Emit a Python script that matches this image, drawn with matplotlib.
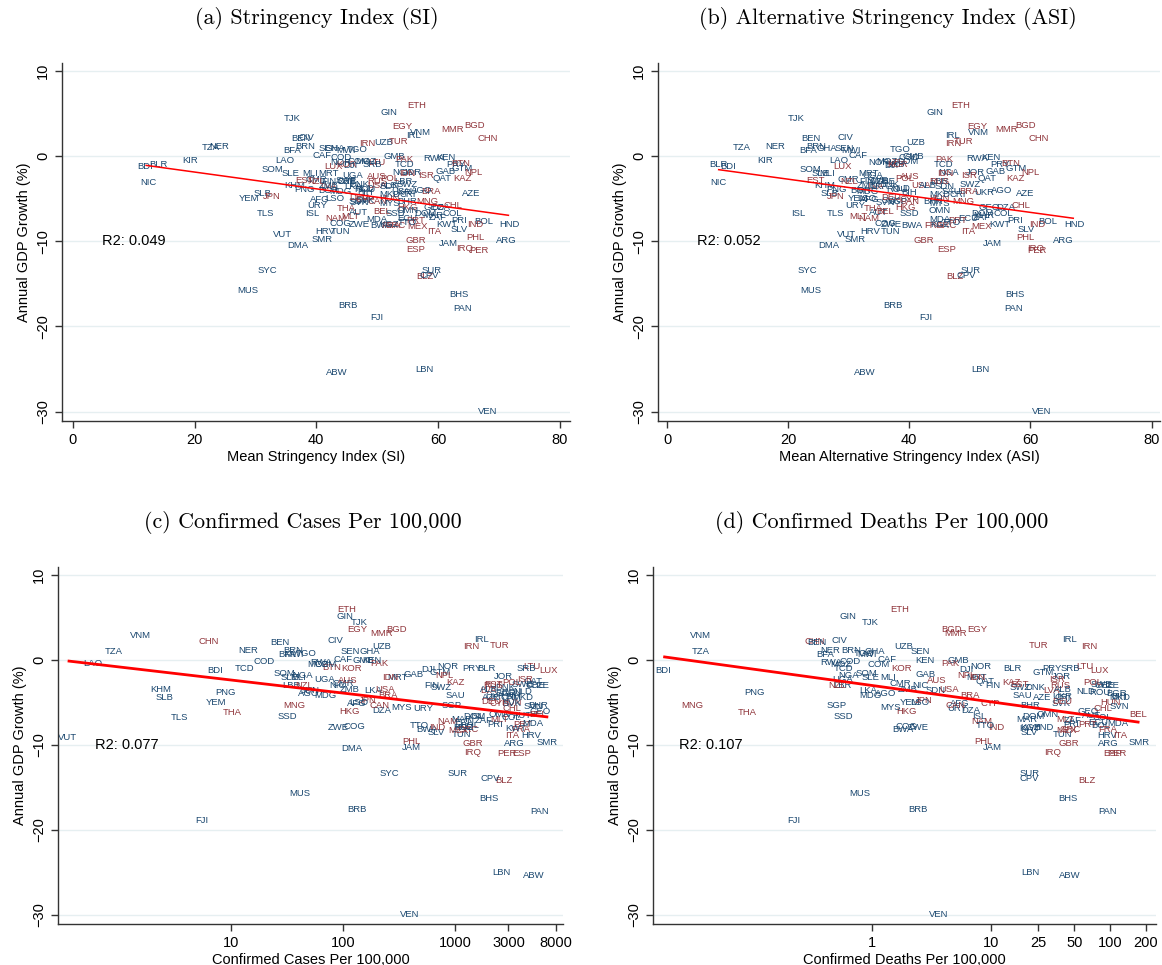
import numpy as np
import matplotlib
matplotlib.use('Agg')
import matplotlib.pyplot as plt
import matplotlib.transforms as mtransforms

nan = np.nan
# ---------------- data ----------------
codes = ['TJK','GIN','ETH','EGY','VNM','IRL','MMR','BGD','CHN','IRN',
         'UZB','TUR','BEN','CIV','BRN','BFA','TZA','NER','KIR','BLR',
         'BDI','NIC','LAO','SOM','SLE','MLI','SLB','YEM','JPN','TLS',
         'AFG','URY','ISL','VUT','DMA','SMR','HRV','KHM','TUN','BWA',
         'GBR','ESP','JAM','PHL','ARG','IRQ','PER','HND','BOL','IND',
         'SLV','PRI','ITA','MAR','MEX','COL','DZA','GEO','CHL','MNG',
         'AZE','BRA','UKR','GMB','PAK','TCD','RWA','KEN','PRY','BTN',
         'GTM','NPL','KAZ','GAB','QAT','JOR','ISR','NGA','SWZ','AGO',
         'LBR','SDN','HKG','NAM','MLT','AUT','BEL','SSD','ECU','FRA',
         'PRT','GRC','MDA','HUN','CHE','NLD','SWE','DNK','LVA','EST',
         'POL','LTU','LUX','SRB','MOZ','DJI','COD','MWI','TGO','GHA',
         'SEN','CAF','KOR','MRT','IDN','UGA','ZMB','LKA','USA','ZWE',
         'COG','CAN','MYS','SGP','CMR','AUS','NZL','THA','PNG','MDG',
         'CYP','BHR','OMN','DOM','KGZ','SAU','TTO','ZAF','FIN','NOR',
         'CZE','BGR','ROU','SVK','SVN','RUS','LSO','DEU','MKD','ALB',
         'BIH','CRI','KWT','SYC','MUS','BRB','FJI','ABW','LBN','VEN',
         'SUR','BLZ','CPV','BHS','PAN','COM']

red_group = [0,0,1,1,0,0,1,1,1,1,
             0,1,0,0,0,0,0,0,0,0,
             0,0,0,0,0,0,0,0,1,0,
             0,0,0,0,0,0,0,0,0,0,
             1,1,0,1,0,1,1,0,0,1,
             0,0,1,0,1,0,0,0,1,1,
             0,1,0,0,1,0,0,0,0,1,
             0,1,1,0,0,0,1,0,0,0,
             0,0,1,1,1,0,1,0,0,1,
             1,1,0,1,0,0,0,0,1,1,
             1,1,1,0,0,0,0,0,0,0,
             0,0,1,0,1,0,0,0,1,0,
             0,1,0,0,0,1,1,1,0,0,
             1,0,0,0,0,0,0,0,0,0,
             0,0,0,0,0,1,0,1,0,0,
             0,0,0,0,0,0,0,0,0,0,
             0,1,0,0,0,0]

gdp_growth = [4.4, 5.1, 5.9, 3.5, 2.8, 2.4, 3.1, 3.6, 2.1, 1.5,
              1.6, 1.7, 2.0, 2.2, 1.1, 0.6, 1.0, 1.1, -0.5, -1.0,
              -1.3, -3.1, -0.5, -1.6, -2.1, -2.1, -4.4, -5.0, -4.8, -6.8,
              -5.1, -5.8, -6.7, -9.2, -10.5, -9.8, -8.9, -3.5, -8.85, -8.2,
              -9.9, -11.0, -10.3, -9.6, -9.9, -10.9, -11.1, -8.0, -7.7, -8.0,
              -8.6, -7.6, -8.9, -7.0, -8.3, -6.8, -6.0, -6.1, -5.8, -5.4,
              -4.4, -4.2, -4.3, -0.1, -0.4, -1.0, -0.3, -0.15, -1.0, -0.9,
              -1.5, -1.9, -2.7, -1.8, -2.6, -2.0, -2.3, -1.9, -3.3, -4.0,
              -3.0, -3.6, -6.1, -7.3, -7.1, -6.6, -6.5, -6.7, -7.4, -8.2,
              -7.6, -8.2, -7.5, -5.0, -3.0, -3.8, -2.9, -3.3, -3.6, -2.9,
              -2.7, -0.8, -1.3, -1.0, -0.6, -1.1, -0.2, 0.6, 0.7, 0.9,
              0.9, 0.0, -1.0, -2.1, -2.1, -2.3, -3.5, -3.6, -3.5, -8.0,
              -7.9, -5.4, -5.6, -5.4, -2.8, -2.4, -3.0, -6.2, -3.9, -4.2,
              -5.1, -5.4, -6.4, -6.7, -8.0, -4.2, -7.8, -7.2, -3.0, -0.8,
              -3.0, -4.0, -3.9, -5.2, -5.5, -3.0, -5.0, -4.9, -4.5, -3.5,
              -4.3, -4.5, -8.1, -13.45, -15.8, -17.6, -18.9, -25.45, -25.0, -30.0,
              -13.45, -14.2, -14.0, -16.3, -17.9, -0.6]

mean_si = [36.0, 52.0, 56.5, 54.1, 57.1, 56.0, 62.4, 66.0, 68.2, 48.4,
           51.1, 53.6, 37.4, 38.4, 38.2, 36.0, 22.6, 24.1, 19.3, 14.1,
           11.9, 12.4, 34.8, 32.8, 35.7, 39.0, 31.1, 29.0, 32.6, 31.6,
           40.6, 40.1, 39.3, 34.5, 37.0, 41.0, 41.5, 36.5, 44.0, 50.6,
           56.3, 56.3, 61.7, 66.2, 71.2, 64.3, 66.8, 71.7, 67.5, 66.2,
           63.5, 63.5, 59.4, 59.1, 56.6, 62.4, 60.5, 59.4, 62.4, 58.3,
           65.4, 58.8, 54.0, 52.8, 54.4, 54.5, 59.4, 61.3, 62.9, 63.8,
           64.0, 65.8, 64.0, 61.3, 60.7, 55.8, 58.0, 54.1, 55.0, 57.4,
           54.3, 52.0, 55.0, 43.2, 45.6, 47.0, 50.9, 53.0, 55.0, 52.2,
           56.3, 53.0, 50.0, 52.0, 45.0, 48.0, 45.0, 47.0, 42.0, 38.0,
           52.0, 50.0, 42.8, 49.2, 48.1, 45.6, 44.0, 44.8, 46.7, 43.0,
           42.0, 41.0, 45.0, 42.0, 55.0, 46.0, 42.0, 46.0, 50.0, 47.0,
           44.0, 50.0, 52.0, 47.0, 40.0, 50.0, 40.0, 45.0, 38.0, 44.0,
           48.0, 55.0, 55.0, 58.0, 52.0, 55.0, 55.0, 60.0, 42.0, 44.0,
           45.0, 42.0, 48.0, 48.0, 47.0, 50.0, 43.0, 47.0, 52.0, 52.0,
           48.0, 55.0, 61.5, 31.9, 28.7, 45.2, 49.9, 43.3, 57.8, 68.1,
           59.0, 57.8, 58.6, 63.5, 64.0, 47.0]

mean_asi = [21.3, 44.3, 48.5, 51.2, 51.5, 47.2, 56.1, 59.2, 61.4, 47.2,
            41.0, 49.0, 23.8, 29.5, 24.7, 23.3, 12.4, 17.9, 16.2, 8.5,
            10.1, 8.4, 28.3, 23.6, 25.3, 26.5, 26.9, 31.6, 27.8, 27.8,
            33.5, 31.1, 21.7, 29.7, 26.7, 31.1, 33.6, 26.0, 36.9, 40.4,
            42.4, 46.1, 53.7, 59.2, 65.5, 60.8, 61.1, 67.2, 62.9, 61.1,
            59.3, 57.5, 49.8, 52.3, 52.0, 55.5, 56.0, 53.1, 58.5, 49.0,
            59.2, 49.8, 52.3, 40.7, 45.7, 45.6, 51.2, 53.4, 55.0, 56.7,
            57.7, 60.0, 57.5, 54.2, 52.8, 50.9, 49.8, 46.5, 50.1, 55.3,
            45.0, 45.9, 39.3, 33.3, 31.6, 35.0, 36.0, 40.0, 49.8, 44.0,
            48.0, 46.0, 45.0, 45.0, 36.0, 38.5, 34.7, 36.6, 34.4, 24.5,
            39.3, 38.0, 28.9, 37.7, 36.3, 37.0, 40.0, 30.3, 38.5, 26.4,
            29.3, 31.6, 38.0, 33.3, 46.0, 34.0, 33.0, 35.0, 42.0, 37.0,
            36.0, 40.0, 45.0, 38.0, 29.9, 40.0, 30.0, 34.0, 28.0, 33.0,
            40.0, 44.0, 45.0, 52.0, 45.0, 47.0, 47.0, 52.0, 33.0, 35.0,
            35.0, 32.0, 38.0, 37.0, 36.0, 45.0, 33.0, 37.0, 45.0, 43.0,
            40.0, 48.0, 55.0, 23.1, 23.7, 37.3, 42.7, 32.7, 51.7, 61.9,
            50.1, 47.6, 49.4, 57.5, 57.2, 39.7]

cases_per_100k = [140, 104, 108, 134, 1.57, 1740, 221, 302, 6.3, 1410,
                  221, 2500, 27.4, 85, 36, 32, 0.91, 14.3, nan, 1910,
                  7.2, 90, 0.59, 30, 33.6, 40, 2.57, 7.35, 168, 3.45,
                  133, 520, 1580, 0.35, 120, 6700, 4800, 2.37, 1140, 560,
                  1450, 3970, 410, 410, 3390, 1440, 2890, 1200, 1350, 690,
                  680, 2290, 3270, 1140, 1070, 3200, 221, 5800, 3200, 37,
                  2100, 254, 2300, 152, 213, 13.3, 64, 180, 1410, 80,
                  730, 810, 1020, 425, 5000, 2700, 4200, 44, 760, 50,
                  35, 50, 115, 870, 2500, 4000, 5500, 31.8, 1200, 3900,
                  4000, 1300, 5000, 3200, 5200, 4050, 4000, 2800, 2000, 2200,
                  3200, 4900, 6800, 4370, 60, 575, 20, 37, 47, 174,
                  116, 100, 120, 310, 262, 69, 115, 186, 240, 91,
                  127, 213, 333, 935, 100, 110, 45, 10.3, 9.0, 70,
                  2500, 5500, 2500, 1500, 1200, 1000, 485, 1800, 617, 870,
                  5700, 2800, 3200, 3200, 5000, 2200, 140, 2100, 4000, 2000,
                  3300, 3000, 3500, 261, 41, 133, 5.5, 5090, 2610, 398,
                  1055, 2710, 2070, 2000, 5710, 70]

deaths_per_100k = [0.96, 0.63, 1.72, 7.6, 0.036, 45.5, 4.98, 4.68, 0.33, 67,
                   1.83, 25, 0.34, 0.53, 0.66, 0.40, 0.036, 0.44, nan, 15.2,
                   0.0175, 2.53, nan, 0.90, 0.96, 1.37, nan, 2.1, 2.7, nan,
                   5.5, 5.2, 8.0, nan, nan, 177, 94, nan, 40, 1.83,
                   44.7, 105, 10.3, 8.6, 97, 33, 115, 27.5, 83, 11.1,
                   21.0, 47.5, 121, 19.9, 43, 86, 6.7, 65, 88, 0.0305,
                   26.7, 6.6, 40, 5.3, 4.5, 0.57, 0.45, 2.8, 32.3, nan,
                   27.5, 6.25, 14.9, 2.8, 8.9, 39, 36, 0.63, 17.5, 1.29,
                   0.56, 3.4, 1.96, 8.3, 42, 70, 172, 0.57, 80, 95,
                   65, 46, 117, 100, 90, 63, 85, 23.4, 32, 17.5,
                   72, 61, 81, 46, 0.54, 6.2, 0.65, 0.9, 0.85, 1.06,
                   2.53, 1.33, 1.78, 7.6, 7.6, 0.56, 2.0, 0.93, 4.4, 2.45,
                   1.96, 5.0, 1.42, 0.505, 1.72, 3.5, 0.505, 0.0895, 0.102, 0.96,
                   9.8, 21.2, 30, 22.6, 21.2, 18.5, 8.9, 49, 10.3, 8.2,
                   100, 113, 83, 39, 120, 38, 2.5, 40, 120, 40,
                   120, 40, 21, nan, 0.78, 2.45, 0.22, 46, 21.5, 3.6,
                   21.1, 64, 20.8, 44, 95, 1.13]

r2_labels = ['R2: 0.049', 'R2: 0.052', 'R2: 0.077', 'R2: 0.107']
titles = ['(a) Stringency Index (SI)', '(b) Alternative Stringency Index (ASI)',
          '(c) Confirmed Cases Per 100,000', '(d) Confirmed Deaths Per 100,000']
xlabels = ['Mean Stringency Index (SI)', 'Mean Alternative Stringency Index (ASI)',
           'Confirmed Cases Per 100,000', 'Confirmed Deaths Per 100,000']
lin_ticks = [0, 20, 40, 60, 80]
cases_ticks = [10, 100, 1000, 3000, 8000]
deaths_ticks = [1, 10, 25, 50, 100, 200]
y_ticks = [10, 0, -10, -20, -30]

# ---------------- styling ----------------
BLUE = '#1a476f'
RED = '#90353b'
SANS = ['Liberation Sans', 'DejaVu Sans']
W, H = 1162, 965
fig = plt.figure(figsize=(W / 100, H / 100), dpi=100)
fig.patch.set_facecolor('white')

def rect(l, r, t, b):
    return [l / W, 1 - b / H, (r - l) / W, (b - t) / H]

y = np.array(gdp_growth, dtype=float)
colors = [RED if g else BLUE for g in red_group]

panels = [
    dict(rect=rect(62, 570, 63, 421), x=np.array(mean_si, float), log=False,
         xlim=(-1.8, 81.7), ticks=lin_ticks, r2x=0.079, lw=1.1, tx=317, ty=18),
    dict(rect=rect(658, 1160, 63, 421), x=np.array(mean_asi, float), log=False,
         xlim=(-1.5, 81.4), ticks=lin_ticks, r2x=0.078, lw=1.1, tx=888, ty=18),
    dict(rect=rect(58, 563, 567, 924), x=np.array(cases_per_100k, float), log=True,
         xlim=(10 ** -0.542, 10 ** 3.964), ticks=cases_ticks, r2x=0.073, lw=2.0, tx=303, ty=522),
    dict(rect=rect(653, 1156, 567, 924), x=np.array(deaths_per_100k, float), log=True,
         xlim=(10 ** -1.843, 10 ** 2.387), ticks=deaths_ticks, r2x=0.052, lw=2.0, tx=882, ty=522),
]

for i, p in enumerate(panels):
    ax = fig.add_axes(p['rect'])
    x = p['x']
    if p['log']:
        ax.set_xscale('log')
    ax.set_xlim(*p['xlim'])
    ax.set_ylim(-31.1, 10.9)
    m = np.isfinite(x) & np.isfinite(y)
    for xi, yi, c, ci, ok in zip(x, y, codes, colors, m):
        if ok:
            ax.text(xi, yi, c, color=ci, fontsize=6.8, family=SANS,
                    ha='center', va='center', zorder=2, clip_on=True)
    xv = np.log10(x[m]) if p['log'] else x[m]
    b1, b0 = np.polyfit(xv, y[m], 1)
    xs = np.array([xv.min(), xv.max()])
    ax.plot(10 ** xs if p['log'] else xs, b0 + b1 * xs, color='red',
            lw=p['lw'], zorder=3, solid_capstyle='butt')

    ax.set_yticks(y_ticks)
    ax.set_xticks(p['ticks'])
    ax.set_xticklabels([str(t) for t in p['ticks']])
    ax.xaxis.set_minor_locator(matplotlib.ticker.NullLocator())
    ax.yaxis.grid(True, color='#e6eff1', lw=1.0, zorder=0)
    ax.set_axisbelow(True)
    for s in ['top', 'right']:
        ax.spines[s].set_visible(False)
    for s in ['left', 'bottom']:
        ax.spines[s].set_color('#333333')
        ax.spines[s].set_linewidth(1.0)
    ax.tick_params(direction='out', length=5, width=1.0, colors='#333333',
                   labelcolor='black', labelsize=10.5)
    for lab in ax.get_xticklabels() + ax.get_yticklabels():
        lab.set_family(SANS)
    for lab in ax.get_yticklabels():
        lab.set_rotation(90)
        lab.set_va('center')
    ax.set_xlabel(xlabels[i], fontsize=10.5, family=SANS, labelpad=2)
    ax.set_ylabel('Annual GDP Growth (%)', fontsize=10.5, family=SANS, labelpad=4)
    trans = mtransforms.blended_transform_factory(ax.transAxes, ax.transData)
    ax.text(p['r2x'], -10, r2_labels[i], transform=trans, fontsize=10.5,
            family=SANS, ha='left', va='center', color='black')
    fig.text(p['tx'] / W, 1 - p['ty'] / H, titles[i], family='cmr10',
             fontsize=15.9, ha='center', va='center')

fig.savefig('out.png', dpi=100, facecolor='white')
